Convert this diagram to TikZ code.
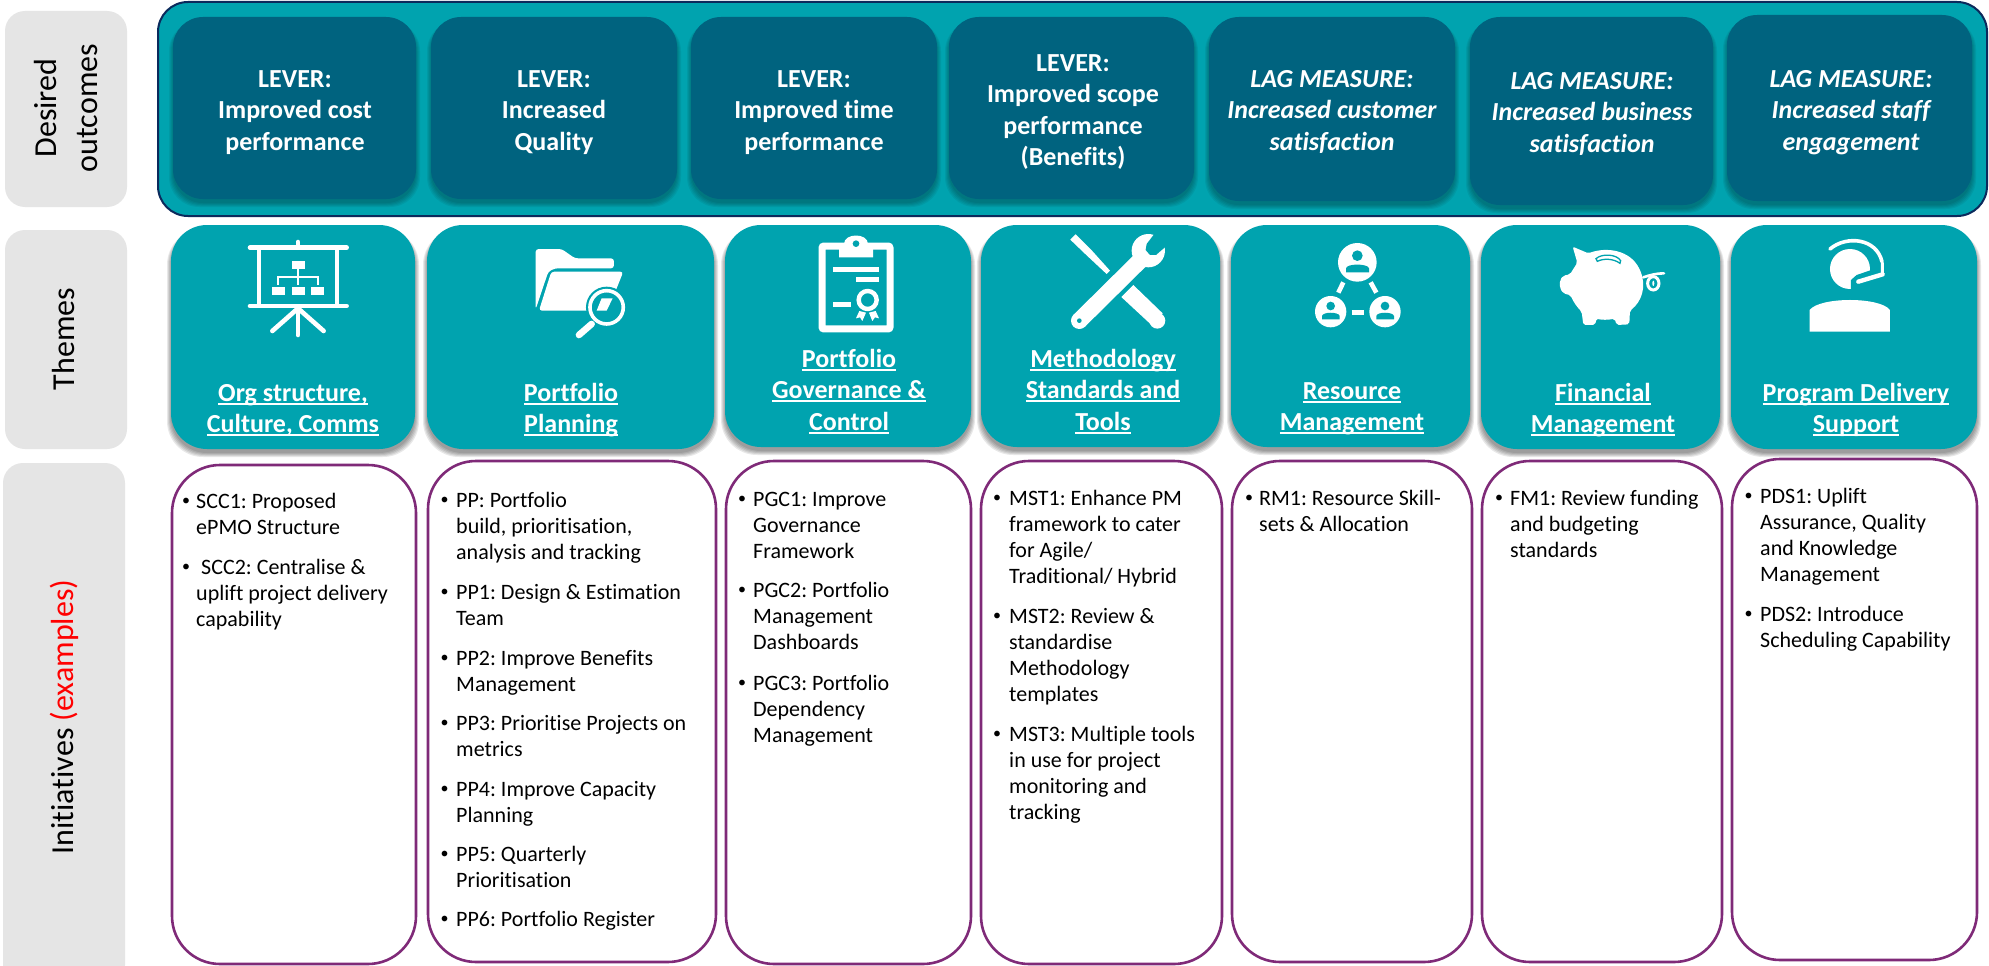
\documentclass[tikz,border=0pt]{standalone}
\usepackage{fontspec}
\setmainfont{Carlito}[Ligatures=NoCommon]
\definecolor{teal1}{HTML}{00A3AF}
\definecolor{lever}{HTML}{00637F}
\definecolor{navy}{HTML}{0B2A5C}
\definecolor{purp}{HTML}{7F2A78}
\definecolor{side}{HTML}{E5E5E5}
\newcommand\softshadow[6]{%
  \foreach \i in {1,...,5}{\fill[black,opacity=#6,rounded corners=#5pt] (#1-\i+1,#2+4) rectangle (#3+\i-1,#4+\i+3);}}
\newcommand\softbox[7]{%
  \pgfmathsetmacro\mybw{#4-#2}\pgfmathsetmacro\mybh{#5-#3}%
  \node[#7,inner sep=0pt,outer sep=0pt,minimum width=\mybw pt,minimum height=\mybh pt,rounded corners=#6pt] (#1) at ({(#2+#4)/2},{(#3+#5)/2}) {};}
\newcommand\ulx[1]{\leavevmode\setbox0\hbox{#1}\rlap{\copy0}\rule[-3.5pt]{\wd0}{1.8pt}}
\newcommand\lev[4]{\node[leadtext] (#1) at (#2,#3-16) {\rule{0pt}{24pt}#4};}
\newcommand\itm[5]{%
  \node[bul] (#1b) at (#2,#4+5) {•};
  \node[itemtext] (#1) at (#3,#4-12) {\rule{0pt}{20pt}#5};}
\tikzset{
  sidebox/.style={fill=side},
  outerbox/.style={fill=teal1,draw=navy,line width=2pt},
  leverbox/.style={fill=lever},
  themebox/.style={fill=teal1},
  initbox/.style={fill=white,draw=purp,line width=2.6pt},
  leadtext/.style={anchor=north,inner sep=0pt,align=center,text=white,font=\fontsize{26}{31.5}\selectfont\bfseries\frenchspacing},
  itemtext/.style={anchor=north west,inner sep=0pt,align=left,text=black,font=\fontsize{22}{26}\selectfont\frenchspacing},
  bul/.style={anchor=base,inner sep=0pt,font=\fontsize{16}{16}\selectfont},
  sidetext/.style={rotate=90,inner sep=0pt,align=center,font=\fontsize{32}{41}\selectfont},
  wl/.style={draw=white,line cap=round},
  icon/.style={x=0.3333pt,y=-0.3333pt}
}
\begin{document}
\begin{tikzpicture}[x=1pt,y=-1pt]
\useasboundingbox (0,0) rectangle (1989,966);
\fill[white] (0,0) rectangle (1989,966);
% side bars
\softbox{sd}{5}{11}{127}{207}{20}{sidebox}
\softbox{st}{5}{230}{127}{449}{20}{sidebox}
\softbox{si}{3}{463}{125}{985}{20}{sidebox}
\node[sidetext] (sdt) at (66,108) {Desired\\outcomes};
\node[sidetext] (stt) at (64,339) {Themes};
\node[sidetext] (sit) at (64,717) {Initiatives \textcolor{red}{(examples)}};
% outer band
\softbox{outer}{158}{2}{1987}{216}{30}{outerbox}
% levers
\softshadow{173}{17}{416}{199}{30}{.06}
\softshadow{431}{17}{677}{199}{30}{.06}
\softshadow{691}{17}{937}{199}{30}{.06}
\softshadow{949}{17}{1194}{199}{30}{.06}
\softshadow{1209}{17}{1455}{201}{30}{.06}
\softshadow{1470}{17}{1713}{205}{30}{.06}
\softshadow{1727}{15}{1972}{201}{30}{.06}
\softbox{l1}{173}{17}{416}{199}{30}{leverbox}
\softbox{l2}{431}{17}{677}{199}{30}{leverbox}
\softbox{l3}{691}{17}{937}{199}{30}{leverbox}
\softbox{l4}{949}{17}{1194}{199}{30}{leverbox}
\softbox{l5}{1209}{17}{1455}{201}{30}{leverbox}
\softbox{l6}{1470}{17}{1713}{205}{30}{leverbox}
\softbox{l7}{1727}{15}{1972}{201}{30}{leverbox}
\lev{lt1}{295}{79}{LEVER:\\Improved cost\\performance}
\lev{lt2}{554}{79}{LEVER:\\Increased\\Quality}
\lev{lt3}{814}{79}{LEVER:\\Improved time\\performance}
\lev{lt4}{1073}{63}{LEVER:\\Improved scope\\performance\\(Benefits)}
\lev{lt5}{1332}{79}{\itshape LAG MEASURE:\\\itshape Increased customer\\\itshape satisfaction}
\lev{lt6}{1592}{81}{\itshape LAG MEASURE:\\\itshape Increased business\\\itshape satisfaction}
\lev{lt7}{1851}{79}{\itshape LAG MEASURE:\\\itshape Increased staff\\\itshape engagement}
% themes
\softshadow{171}{225}{415}{449}{36}{.09}
\softshadow{427}{225}{714}{449}{36}{.09}
\softshadow{725}{225}{971}{447}{36}{.09}
\softshadow{981}{225}{1220}{447}{36}{.09}
\softshadow{1231}{225}{1470}{447}{36}{.09}
\softshadow{1481}{225}{1720}{449}{36}{.09}
\softshadow{1731}{225}{1977}{449}{36}{.09}
\softbox{t1}{171}{225}{415}{449}{36}{themebox}
\softbox{t2}{427}{225}{714}{449}{36}{themebox}
\softbox{t3}{725}{225}{971}{447}{36}{themebox}
\softbox{t4}{981}{225}{1220}{447}{36}{themebox}
\softbox{t5}{1231}{225}{1470}{447}{36}{themebox}
\softbox{t6}{1481}{225}{1720}{449}{36}{themebox}
\softbox{t7}{1731}{225}{1977}{449}{36}{themebox}
\lev{tt1}{293}{393}{\ulx{Org structure,}\\\ulx{Culture, Comms}}
\lev{tt2}{571}{393}{\ulx{Portfolio}\\\ulx{Planning}}
\lev{tt3}{849}{359}{\ulx{Portfolio}\\\ulx{Governance \&}\\\ulx{Control}}
\lev{tt4}{1103}{359}{\ulx{Methodology}\\\ulx{Standards and}\\\ulx{Tools}}
\lev{tt5}{1352}{391}{\ulx{Resource}\\\ulx{Management}}
\lev{tt6}{1603}{393}{\ulx{Financial}\\\ulx{Management}}
\lev{tt7}{1856}{393}{\ulx{Program Delivery}\\\ulx{Support}}
% initiatives
\softbox{i1}{172}{465}{416}{964}{48}{initbox}
\softbox{i2}{428}{461}{716}{962}{48}{initbox}
\softbox{i3}{726}{461}{971}{964}{48}{initbox}
\softbox{i4}{981}{461}{1222}{964}{48}{initbox}
\softbox{i5}{1232}{461}{1472}{962}{48}{initbox}
\softbox{i6}{1482}{461}{1722}{962}{48}{initbox}
\softbox{i7}{1732}{459}{1977}{960}{48}{initbox}
\itm{a1}{186}{196}{500}{SCC1: Proposed\\ePMO Structure}
\itm{a2}{186}{196}{566}{\hspace{5pt}SCC2: Centralise \&\\uplift project delivery\\capability}
\itm{b0}{444.5}{456}{499}{PP: Portfolio\\build, prioritisation,\\analysis and tracking}
\itm{b1}{444.5}{456}{591}{PP1: Design \& Estimation\\Team}
\itm{b2}{444.5}{456}{657}{PP2: Improve Benefits\\Management}
\itm{b3}{444.5}{456}{722}{PP3: Prioritise Projects on\\metrics}
\itm{b4}{444.5}{456}{788}{PP4: Improve Capacity\\Planning}
\itm{b5}{444.5}{456}{853}{PP5: Quarterly\\Prioritisation}
\itm{b6}{444.5}{456}{918}{PP6: Portfolio Register}
\itm{c1}{742}{753}{498}{PGC1: Improve\\Governance\\Framework}
\itm{c2}{742}{753}{589}{PGC2: Portfolio\\Management\\Dashboards}
\itm{c3}{742}{753}{682}{PGC3: Portfolio\\Dependency\\Management}
\itm{d1}{997}{1009}{497}{MST1: Enhance PM\\framework to cater\\for Agile/\\Traditional/ Hybrid}
\itm{d2}{997}{1009}{615}{MST2: Review \&\\standardise\\Methodology\\templates}
\itm{d3}{997}{1009}{733}{MST3: Multiple tools\\in use for project\\monitoring and\\tracking}
\itm{e1}{1249}{1259}{497}{RM1: Resource Skill-\\sets \& Allocation}
\itm{f1}{1499}{1510}{497}{FM1: Review funding\\and budgeting\\standards}
\itm{g1}{1748.5}{1760}{495}{PDS1: Uplift\\Assurance, Quality\\and Knowledge\\Management}
\itm{g2}{1748.5}{1760}{613}{PDS2: Introduce\\Scheduling Capability}
% icon: presentation board and folder
\begin{scope}[shift={(230,230)},icon]
  \draw[wl,line width=4.6pt] (60,53) -- (350,53);
  \draw[wl,line width=4.6pt] (204,36) -- (204,50);
  \draw[wl,line width=4.6pt] (60,228) -- (350,228);
  \draw[white,line width=3.8pt] (88,53) rectangle (320,228);
  \fill[white] (185,93) rectangle (225,118);
  \fill[white] (126,171) rectangle (165,195);
  \fill[white] (185,171) rectangle (225,195);
  \fill[white] (243,171) rectangle (282,195);
  \draw[white,line width=1.8pt] (204,118) -- (204,165);
  \draw[white,line width=1.8pt] (145,165) -- (145,140) -- (264,140) -- (264,165);
  \draw[wl,line width=4.6pt] (204,235) -- (204,315);
  \draw[wl,line width=4.6pt] (204,235) -- (127,303);
  \draw[wl,line width=4.6pt] (204,235) -- (281,303);
  \fill[white,rounded corners=3pt] (917,238) -- (917,57) -- (995,57) -- (1035,85) -- (1152,85) -- (1152,115) -- (975,115) -- (955,125) -- cycle;
  \fill[white,rounded corners=3pt] (927,242) -- (964,125) -- (1180,125) -- (1150,200) -- (1080,242) -- cycle;
  \fill[teal1] (1130,232) circle[radius=62];
  \draw[white,line width=3.6pt] (1130,232) circle[radius=50];
  \fill[white] (1115,205) -- (1148,205) -- (1130,242) -- (1100,242) -- cycle;
  \draw[wl,line width=6.6pt] (1085,282) -- (1047,315);
\end{scope}
% icon: clipboard and tools
\begin{scope}[shift={(800,230)},icon]
  \draw[white,line width=7pt,rounded corners=2pt] (66,48) rectangle (270,297);
  \fill[white] (117,42) -- (132,42) .. controls (132,8) and (204,8) .. (204,42) -- (219,42) -- (219,82) -- (117,82) -- cycle;
  \fill[teal1] (168,41) circle[radius=10];
  \fill[white] (99,110) rectangle (237,126);
  \fill[white] (168,140) rectangle (237,156);
  \fill[white] (99,216) rectangle (153,232);
  \draw[white,line width=4.4pt] (203,210) circle[radius=27];
  \fill[white] (168,265) -- (178,243) -- (198,248) -- (187,273) -- (180,262) -- cycle;
  \fill[white] (207,248) -- (227,243) -- (237,265) -- (225,262) -- (217,273) -- cycle;
  \fill[white] (811,29) -- (827,13) -- (876,62) -- (930,122) -- (920,132) -- (860,76) -- cycle;
  \fill[white] (964,201) -- (1000,165) -- (1088,250) -- (1060,290) -- cycle;
  \fill[white] (1072,272) circle[radius=24];
  \draw[white,line width=16.5pt] (838,272) -- (1020,92);
  \fill[white] (838,272) circle[radius=25];
  \fill[teal1] (838,272) circle[radius=7];
  \fill[white] (1045,62) circle[radius=50];
  \fill[teal1] (1066,8) -- (1040,42) -- (1037,60) -- (1050,75) -- (1068,75) -- (1097,50) -- (1105,8) -- cycle;
\end{scope}
% icon: people and piggy bank
\begin{scope}[shift={(1300,230)},icon]
  \fill[white] (172,97) circle[radius=58];
  \fill[teal1] (172,77) circle[radius=16];
  \fill[teal1] (138,127) -- (138,115) .. controls (140,100) and (204,100) .. (207,115) -- (207,127) -- cycle;
  \fill[white] (92,245) circle[radius=47];
  \fill[teal1] (92,228) circle[radius=13];
  \fill[teal1] (66,268) -- (66,258) .. controls (68,245) and (116,245) .. (119,258) -- (119,268) -- cycle;
  \fill[white] (255,245) circle[radius=47];
  \fill[teal1] (255,228) circle[radius=13];
  \fill[teal1] (229,268) -- (229,258) .. controls (231,245) and (279,245) .. (282,258) -- (282,268) -- cycle;
  \draw[white,line width=4.6pt] (130,157) -- (115,188);
  \draw[white,line width=4.6pt] (212,157) -- (229,188);
  \draw[white,line width=4.6pt] (155,247) -- (193,247);
  \fill[white,rounded corners=2pt] (818,50) -- (865,70) .. controls (920,50) and (990,60) .. (1020,120) .. controls (1040,170) and (1025,215) .. (990,242) -- (988,283) -- (950,285) -- (944,266) .. controls (925,270) and (905,270) .. (890,266) -- (885,285) -- (850,285) -- (845,245) .. controls (830,230) and (820,215) .. (812,196) -- (790,190) -- (780,175) -- (780,150) -- (790,137) -- (810,133) -- (832,98) -- cycle;
  \draw[teal1,line width=1.3pt] (888,86) .. controls (905,70) and (950,72) .. (962,92) -- (960,100) .. controls (940,85) and (910,85) .. (892,94) -- cycle;
  \draw[wl,line width=2.6pt] (1030,142) .. controls (1050,135) and (1070,130) .. (1092,130);
  \draw[white,line width=3pt] (1060,160) ellipse[x radius=17,y radius=20];
  \fill[white] (1060,160) ellipse[x radius=3,y radius=8];
\end{scope}
% icon: headset
\begin{scope}[shift={(1500,230)},icon]
  \fill[white] (1050,117) circle[radius=60];
  \fill[teal1] (1053,182) -- (1053,150) -- (1070,135) -- (1120,118) -- (1160,118) -- (1160,182) -- cycle;
  \draw[wl,line width=3.6pt] (990,57) .. controls (1040,15) and (1130,25) .. (1146,95);
  \fill[white] (1143,92) -- (1152,98) -- (1152,135) -- (1143,135) -- cycle;
  \draw[wl,line width=4.4pt] (1148,133) -- (1075,155);
  \fill[white] (929,305) -- (929,240) .. controls (960,200) and (1140,200) .. (1170,240) -- (1170,305) -- cycle;
\end{scope}
\end{tikzpicture}
\end{document}
